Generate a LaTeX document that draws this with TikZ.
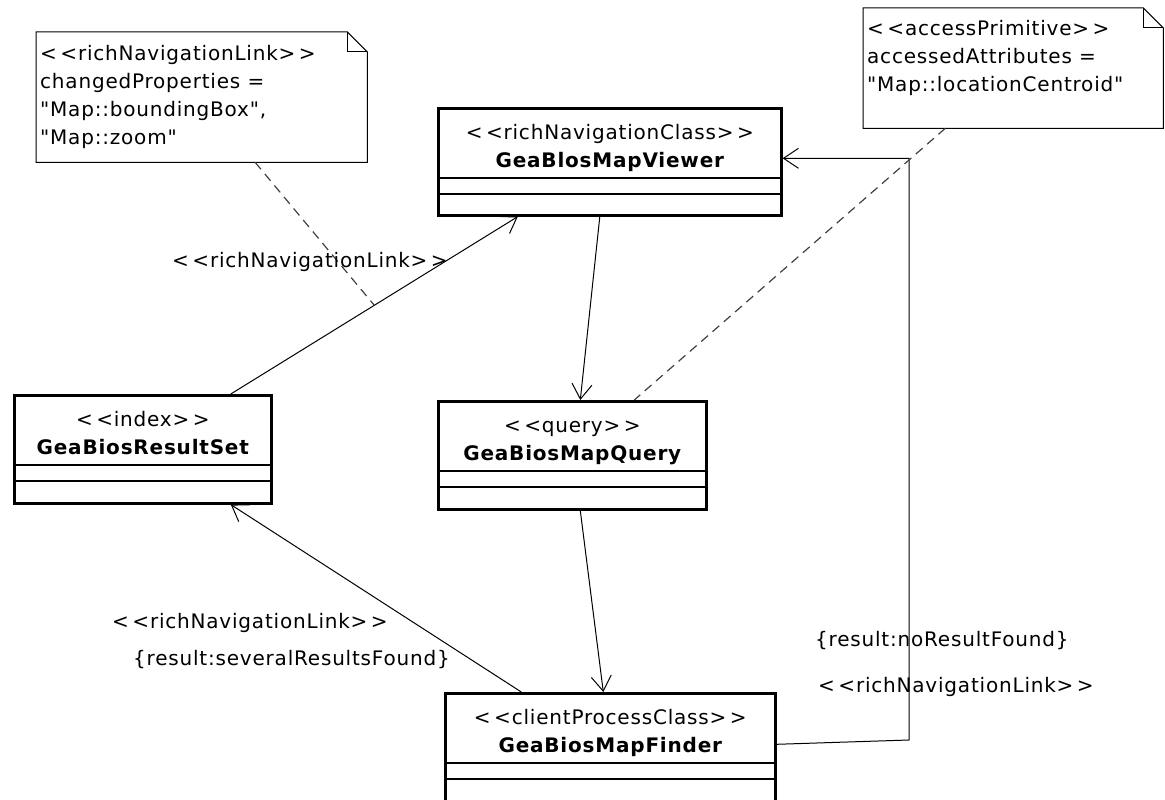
\documentclass[tikz,border=0pt]{standalone}
\usepackage{fontspec}
\setmainfont{DejaVu Sans}[LetterSpace=4, Ligatures=TeXOff]
\usetikzlibrary{arrows.meta,positioning}

\newcommand\stereo[1]{<\kern3.5pt<#1>\kern3.5pt>}

\tikzset{
  classbox/.style={draw, line width=2.6pt, inner sep=0pt, anchor=north west},
  sepline/.style={line width=1.2pt},
  link/.style={line width=1pt, -{Straight Barb[length=15pt,width=20pt,line width=1pt]}},
  notelink/.style={line width=1.2pt, dash pattern=on 9pt off 6pt, black!75},
  notebox/.style={inner sep=0pt, anchor=north west},
  notetext/.style={align=left, inner sep=0pt, anchor=north west},
  stereotype/.style={anchor=base},
  classname/.style={anchor=base, font=\bfseries},
  linklabel/.style={anchor=base west, inner sep=0pt},
}

\begin{document}
\fontsize{20}{28}\selectfont
\begin{tikzpicture}[x=1pt, y=-1pt]
  \useasboundingbox (0,0) rectangle (1165,800);

  % classes
  \node[classbox, minimum width=343pt, minimum height=107pt] (viewer) at (437,107) {};
  \node[classbox, minimum width=257pt, minimum height=108pt] (resultset) at (13,394) {};
  \node[classbox, minimum width=268pt, minimum height=108pt] (query) at (437,400) {};
  \node[classbox, minimum width=330pt, minimum height=130pt] (finder) at (444,692) {};
  \foreach \c/\s/\n in {viewer/richNavigationClass/GeaBlosMapViewer,
                        resultset/index/GeaBiosResultSet,
                        query/query/GeaBiosMapQuery,
                        finder/clientProcessClass/GeaBiosMapFinder} {
    \node[stereotype] (\c-st) at ([yshift=-32pt]\c.north) {\stereo{\s}};
    \node[classname] (\c-name) at ([yshift=-60pt]\c.north) {\n};
    \draw[sepline] ([yshift=-71pt]\c.north west) -- ([yshift=-71pt]\c.north east);
    \draw[sepline] ([yshift=-87pt]\c.north west) -- ([yshift=-87pt]\c.north east);
  }

  % notes
  \node[notebox, minimum width=331pt, minimum height=130pt] (navnote) at (36,32) {};
  \node[notebox, minimum width=300pt, minimum height=120pt] (accessnote) at (863,8) {};
  \foreach \n in {navnote, accessnote} {
    \draw[line width=1pt] (\n.south west) -- (\n.north west) -- ([xshift=-20pt]\n.north east)
      -- ([yshift=-20pt]\n.north east) -- (\n.south east) -- cycle;
    \draw[line width=1pt] ([xshift=-20pt]\n.north east) |- ([yshift=-20pt]\n.north east);
  }
  \node[notetext] (navnote-txt) at (40,45) {\stereo{richNavigationLink}\\
    changedProperties =\\ "Map::boundingBox",\\ "Map::zoom"};
  \node[notetext] (accessnote-txt) at (867,20) {\stereo{accessPrimitive}\\
    accessedAttributes =\\ "Map::locationCentroid"};

  % links
  \draw[link] ([xshift=88pt]resultset.north) -- coordinate[pos=.5] (rsvmid) ([xshift=-92pt]viewer.south);
  \draw[link] ([xshift=-10pt]viewer.south) -- ([xshift=8pt]query.north);
  \draw[link] ([xshift=8pt]query.south) -- ([xshift=-7pt]finder.north);
  \draw[link] ([xshift=-89pt]finder.north) -- ([xshift=88pt]resultset.south);
  \coordinate (finderbend) at (909,740);
  \draw[link] ([yshift=14pt]finder.east) -- (finderbend) |- ([yshift=3.5pt]viewer.east);

  % note anchors
  \draw[notelink] ([xshift=53.5pt]navnote.south) -- (rsvmid);
  \draw[notelink] ([xshift=-68pt]accessnote.south) -- ([xshift=62pt]query.north);

  % link labels
  \node[linklabel] (vlinklabel) at (172,267) {\stereo{richNavigationLink}};
  \node[linklabel] (rslinklabel) at (112,628) {\stereo{richNavigationLink}};
  \node[linklabel] (rsguard) at (133,665) {\{result:severalResultsFound\}};
  \node[linklabel] (noguard) at (815,646) {\{result:noResultFound\}};
  \node[linklabel] (nolinklabel) at (818,692) {\stereo{richNavigationLink}};
\end{tikzpicture}
\end{document}
